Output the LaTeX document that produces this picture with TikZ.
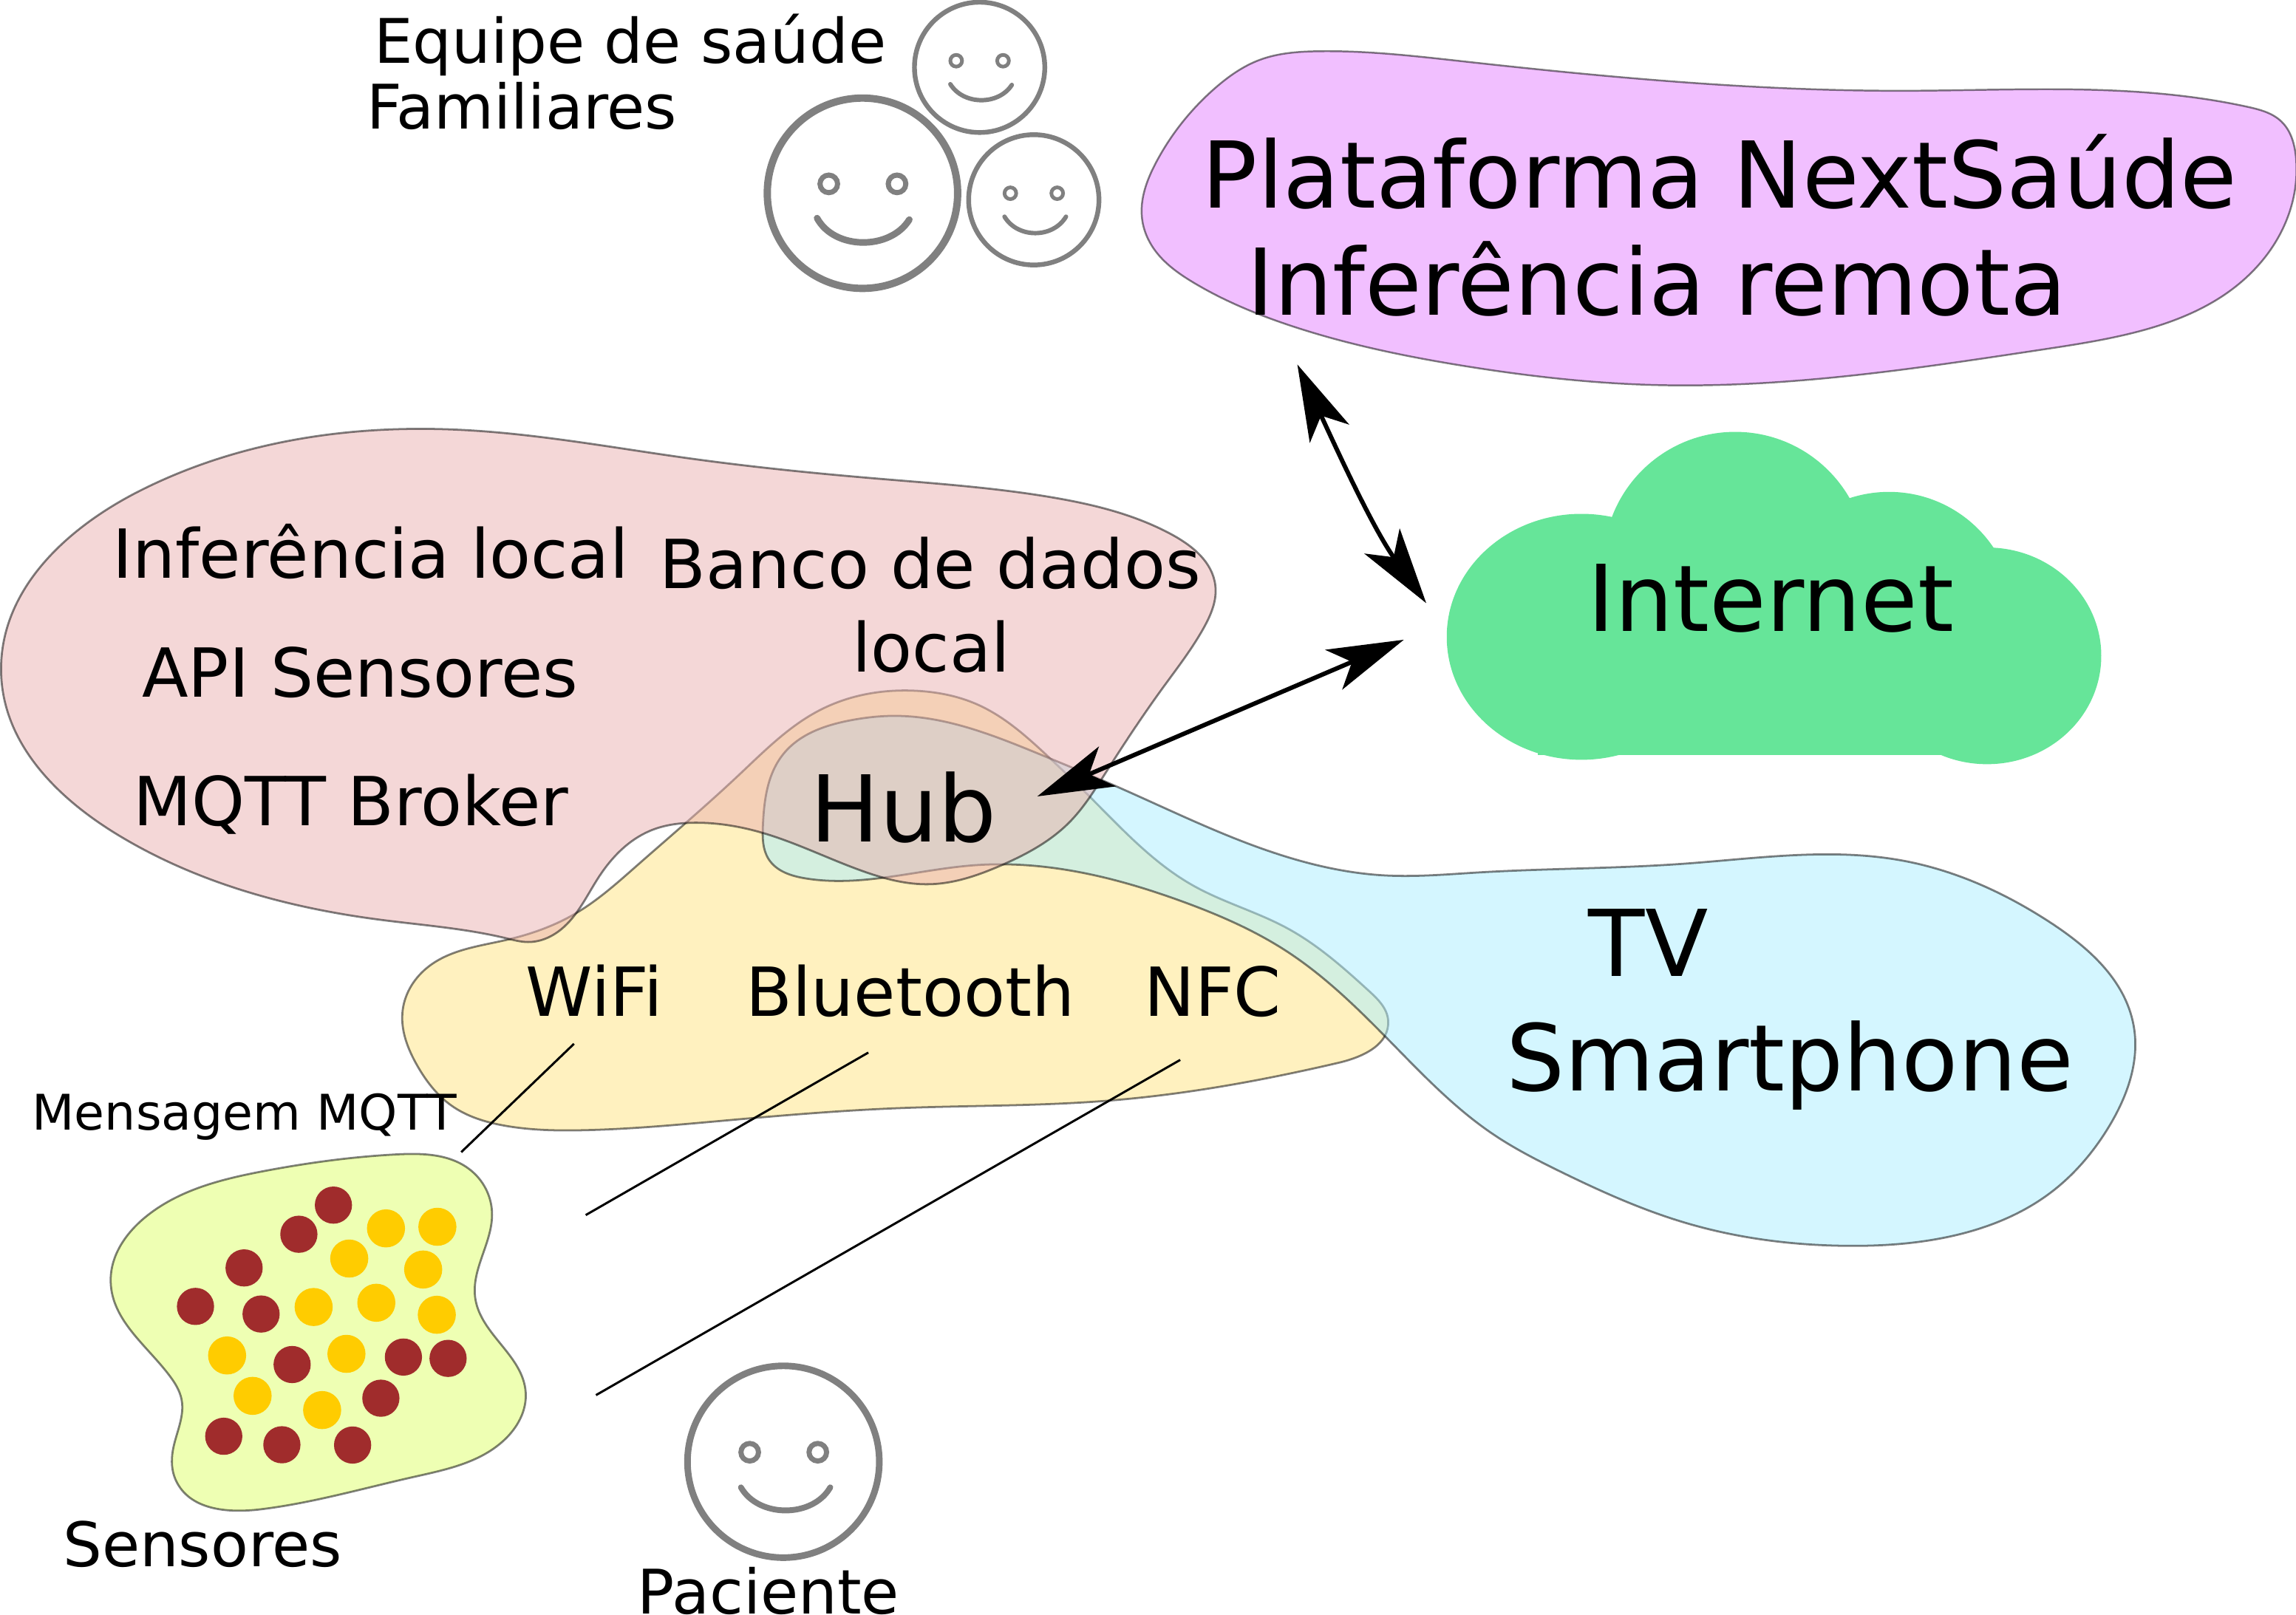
\documentclass[tikz,border=0pt]{standalone}
\usepackage{fontspec}
\setmainfont{DejaVu Sans}
\usetikzlibrary{arrows.meta,hobby}
\tikzset{
  blob/.style={draw=black,line width=.028cm,fill opacity=.5,draw opacity=.5},
  lab/.style={anchor=base west,inner sep=0pt,outer sep=0pt,text=black},
  fb/.style={lab,font=\fontsize{35.85}{40}\selectfont},
  fc/.style={lab,font=\fontsize{26.3}{30}\selectfont},
  fd/.style={lab,font=\fontsize{23.9}{28}\selectfont},
  fe/.style={lab,font=\fontsize{19.1}{22}\selectfont},
  face/.style={draw=facegray,fill=none,line cap=round},
  reddot/.style={fill=dotred},
  yeldot/.style={fill=dotyel},
  wire/.style={draw=black,line width=.03cm},
  dbl/.style={draw=black,line width=.06cm,{Stealth[length=1.04cm,width=.59cm,inset=.27cm]}-{Stealth[length=1.04cm,width=.59cm,inset=.27cm]}},
}
\definecolor{facegray}{HTML}{808080}
\definecolor{dotred}{HTML}{A02C2C}
\definecolor{dotyel}{HTML}{FFCC00}
\definecolor{pinkb}{HTML}{E9AFAF}
\definecolor{blueb}{HTML}{AAEEFF}
\definecolor{yellb}{HTML}{FFE380}
\definecolor{purpb}{HTML}{F1BFFF}
\definecolor{cloudg}{HTML}{66E599}
\definecolor{sensg}{HTML}{EEFFB3}
\newcommand{\pyell}{(275,690) to[closed,curve through={(293,660) .. (346,642) .. (393,624) .. (434.6,591.6) .. (505,529) .. (560,485) .. (628,472) .. (667,481) .. (716,517) .. (744,544) .. (815,605) .. (879,634) .. (935,677) .. (948,697) .. (914,726) .. (755,752) .. (613,757) .. (500,765) .. (400,772) .. (345,769) .. (308,755)}] (285,728)}
\newcommand{\pblue}{(521,564) to[closed,curve through={(535,515) .. (581,492) .. (610,489) .. (712,516) .. (762,537) .. (844,573) .. (946,598) .. (1009,596) .. (1150,590) .. (1300,588) .. (1400,630) .. (1457,700) .. (1440,770) .. (1400,815) .. (1330,845) .. (1260,851) .. (1150,835) .. (1065,800) .. (1020,775) .. (946,708) .. (879,650) .. (808,616) .. (666,591) .. (550,600)}] (525,587)}
\newcommand{\ppink}{(0.8,461) to[closed,curve through={(96,335) .. (312,293.5) .. (470,313) .. (600,327) .. (720,340) .. (800,365) .. (830,400) .. (822,429) .. (794,470) .. (755,528) .. (730,562) .. (684,591) .. (635,604) .. (589,595) .. (521,569) .. (476,562) .. (444,567.5) .. (409,599) .. (383,635) .. (360.5,643.5) .. (346,641) .. (257.5,628)}] (80,570)}
\begin{document}
\begin{tikzpicture}[x=.02cm,y=-.02cm]
\useasboundingbox (0,0) rectangle (1568,1103.2);
% purple blob
\draw[draw=black,line width=.025cm,draw opacity=.5,fill=purpb] (780,150) to[closed,curve through={(790,110) .. (830,60) .. (860,41) .. (900,35) .. (1000,42) .. (1300,62) .. (1535,73) .. (1558,83) .. (1568,108) .. (1545,178) .. (1400,238) .. (1130,263) .. (1000,250) .. (880,222) .. (815,193)}] (788,170);
% cloud
\fill[cloudg] (1080,435) ellipse[x radius=92,y radius=84];
\fill[cloudg] (1185,385) circle[radius=90];
\fill[cloudg] (1290,422) circle[radius=86];
\fill[cloudg] (1357,448) ellipse[x radius=78,y radius=74];
\fill[cloudg] (1050,420) rectangle (1325,516);
% overlapping blobs
\fill[yellb,opacity=.5] \pyell;
\draw[blob] \pyell;
\fill[blueb,opacity=.5] \pblue;
\draw[blob] \pblue;
\fill[pinkb,opacity=.5] \ppink;
\draw[blob] \ppink;
% sensors blob
\draw[draw=black,draw opacity=.5,line width=.028cm,fill=sensg] (180,800) to[closed,curve through={(270,788.6) .. (321,799) .. (336,828) .. (324.6,887) .. (359,951) .. (344,984) .. (282,1009) .. (178,1031) .. (120,1011) .. (118,991) .. (124,956) .. (116,940) .. (75.6,876)}] (101,830);
\foreach \p in {(227.7,823.2),(204.1,843.1),(166.7,866.1),(133.5,892.4),(178.3,897.6),(199.5,932.1),(275.5,927),(306,927.9),(260.1,955.1),(152.8,981.1),(192.5,986.9),(240.8,987.1)}
  \fill[reddot] \p circle[radius=12.7];
\foreach \p in {(263.6,839.1),(298.7,838),(238.5,859.7),(289,867.2),(214.2,892.8),(257,889.9),(298.3,898.1),(155.1,925.9),(236.6,924.8),(172.5,953.5),(220,963.2)}
  \fill[yeldot] \p circle[radius=13];
% faces
\begin{scope}[face,line width=.1cm]
\draw (589,132) circle[radius=65];
\draw[line width=.07cm] (566,125.6) circle[radius=6];
\draw[line width=.07cm] (612.6,125.6) circle[radius=6];
\draw[line width=.09cm] (558,149) .. controls (570,171) and (608,171) .. (621,150);
\end{scope}
\begin{scope}[face,line width=.065cm]
\draw (669,46) circle[radius=44.5];
\draw[line width=.05cm] (653,41.5) circle[radius=4];
\draw[line width=.05cm] (685,41.5) circle[radius=4];
\draw[line width=.06cm] (649,57.5) .. controls (658,72) and (682,72) .. (691,58);
\draw (706,136.5) circle[radius=44.5];
\draw[line width=.05cm] (690,132) circle[radius=4];
\draw[line width=.05cm] (722,132) circle[radius=4];
\draw[line width=.06cm] (686,148) .. controls (695,163) and (719,163) .. (728,148);
\end{scope}
\begin{scope}[face,line width=.09cm]
\draw (535,998.5) circle[radius=65.5];
\draw[line width=.07cm] (512,992) circle[radius=6];
\draw[line width=.07cm] (558.5,992) circle[radius=6];
\draw[line width=.08cm] (506,1016) .. controls (518,1037) and (555,1037) .. (567,1016);
\end{scope}
% labels
\node[fd] (equipe) at (255.5,43) {Equipe de saúde};
\node[fd] (famil) at (250.5,88) {Familiares};
\node[fb] (plat) at (821,142) {Plataforma NextSaúde};
\node[fb] (infr) at (851.5,215) {Inferência remota};
\node[fb] (inet) at (1084.5,431) {Internet};
\node[fc] (infl) at (77,395) {Inferência local};
\node[fc] (banco) at (450.5,402) {Banco de dados};
\node[fc] (local) at (582,459) {local};
\node[fc] (api) at (97,476) {API Sensores};
\node[fc] (mqtt) at (91,564) {MQTT Broker};
\node[fb] (hub) at (553.5,575) {Hub};
\node[fb] (tv) at (1085,667) {TV};
\node[fb] (smart) at (1028.5,745) {Smartphone};
\node[fc] (wifi) at (359,694) {WiFi};
\node[fc] (blue) at (509.5,694) {Bluetooth};
\node[fc] (nfc) at (781.5,694) {NFC};
\node[fe] (msg) at (22,772) {Mensagem MQTT};
\node[fd] (sens) at (43,1070) {Sensores};
\node[fd] (pac) at (435.5,1102.5) {Paciente};
% connectors
\coordinate (w1a) at (392,713); \coordinate (w1b) at (315,787);
\coordinate (w2a) at (593,719); \coordinate (w2b) at (400,830);
\coordinate (w3a) at (806,724); \coordinate (w3b) at (407,953);
\draw[wire] (w1a) -- (w1b);
\draw[wire] (w2a) -- (w2b);
\draw[wire] (w3a) -- (w3b);
\coordinate (a1a) at (708.4,544); \coordinate (a1b) at (958.7,437);
\coordinate (a2a) at (886,249); \coordinate (a2b) at (974,412);
\draw[dbl] (a1a) -- (a1b);
\draw[dbl] (a2a) .. controls (912,305) and (937,360) .. (a2b);
\end{tikzpicture}
\end{document}
